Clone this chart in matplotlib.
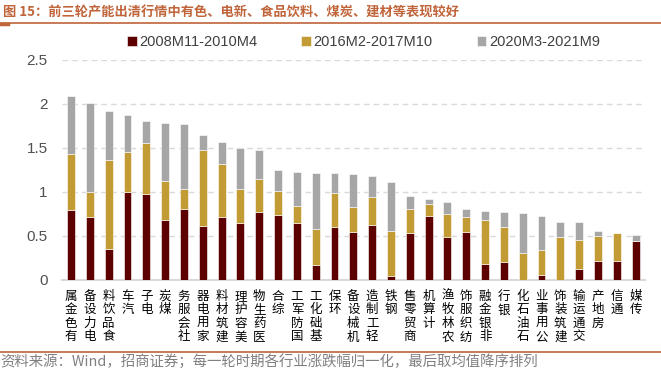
import matplotlib.pyplot as plt
import numpy as np

plt.rcParams['font.family'] = ['Liberation Sans', 'Noto Sans CJK SC', 'DejaVu Sans']

industries = ["有色金属", "电力设备", "食品饮料", "汽车", "电子", "煤炭", "社会服务", "家用电器",
              "建筑材料", "美容护理", "医药生物", "综合", "国防军工", "基础化工", "环保", "机械设备",
              "轻工制造", "钢铁", "商贸零售", "计算机", "农林牧渔", "纺织服饰", "非银金融", "银行",
              "石油石化", "公用事业", "建筑装饰", "交通运输", "房地产", "通信", "传媒"]
series_names = ["2008M11-2010M4", "2016M2-2017M10", "2020M3-2021M9"]
round1 = [0.79, 0.71, 0.35, 1.00, 0.97, 0.68, 0.81, 0.61, 0.71, 0.65, 0.77, 0.74, 0.65, 0.17, 0.60, 0.54,
          0.62, 0.04, 0.53, 0.72, 0.49, 0.54, 0.18, 0.20, 0.00, 0.06, 0.00, 0.13, 0.22, 0.21, 0.44]
round2 = [0.64, 0.29, 1.01, 0.45, 0.58, 0.44, 0.22, 0.86, 0.61, 0.38, 0.38, 0.27, 0.19, 0.41, 0.39, 0.29,
          0.32, 0.52, 0.28, 0.14, 0.26, 0.17, 0.50, 0.40, 0.31, 0.28, 0.49, 0.32, 0.28, 0.32, 0.00]
round3 = [0.66, 1.01, 0.56, 0.42, 0.25, 0.66, 0.74, 0.17, 0.25, 0.47, 0.32, 0.24, 0.39, 0.63, 0.22, 0.37,
          0.24, 0.55, 0.14, 0.06, 0.13, 0.09, 0.10, 0.17, 0.45, 0.38, 0.17, 0.21, 0.06, 0.00, 0.07]
yticks = [0, 0.5, 1, 1.5, 2, 2.5]

accent = "#C0643A"
colors = ["#5C0000", "#C39B34", "#A6A6A6"]

fig = plt.figure(figsize=(6.61, 3.71), dpi=100)
ax = fig.add_axes([0.0933, 0.2453, 0.8825, 0.5943])

x = np.arange(len(industries))
r1 = np.array(round1)
r2 = np.array(round2)
r3 = np.array(round3)
ax.bar(x, r1, width=0.42, color=colors[0], edgecolor="white", linewidth=0.4, label=series_names[0], zorder=3)
ax.bar(x, r2, width=0.42, bottom=r1, color=colors[1], edgecolor="white", linewidth=0.4, label=series_names[1], zorder=3)
ax.bar(x, r3, width=0.42, bottom=r1 + r2, color=colors[2], edgecolor="white", linewidth=0.4, label=series_names[2], zorder=3)

ax.set_xlim(-0.5, len(industries) - 0.5)
ax.set_ylim(0, 2.5)
ax.set_yticks(yticks)
ax.set_yticklabels([f"{t:g}" for t in yticks], fontsize=11, color="#505050")
ax.tick_params(axis="y", length=0, pad=10)
ax.set_xticks([])
for t in yticks[1:]:
    ax.axhline(t, color="#D9D9D9", linestyle=(0, (4, 3)), linewidth=1, zorder=1)
for s in ["top", "right", "left"]:
    ax.spines[s].set_visible(False)
ax.spines["bottom"].set_color("#D9D9D9")
ax.spines["bottom"].set_linewidth(1.5)

# vertical labels, upright characters, read bottom to top
for i, name in enumerate(industries):
    ax.text(i, -0.11, "\n".join(reversed(name)), ha="center", va="top", fontsize=9,
            linespacing=1.06, family=["Noto Sans CJK SC"], color="#000000")

fig.legend(loc="center", bbox_to_anchor=(0.55, 0.887), ncol=3, frameon=False, fontsize=10.5,
           handlelength=0.65, handleheight=0.65, handletextpad=0.2, columnspacing=3.0,
           labelcolor="#404040")

fig.text(0.004, 0.967, "图 15：前三轮产能出清行情中有色、电新、食品饮料、煤炭、建材等表现较好",
         ha="left", va="center", fontsize=9.5, fontweight="bold", color=accent,
         family=["Noto Sans CJK SC", "DejaVu Sans"])
fig.add_artist(plt.Line2D([0, 1], [0.938, 0.938], color=accent, linewidth=1.2))
fig.add_artist(plt.Line2D([0, 0.012], [0.934, 0.934], color=accent, linewidth=2.5))
fig.add_artist(plt.Line2D([0, 1], [0.052, 0.052], color=accent, linewidth=1.2))
fig.text(0.0, 0.024, "资料来源：Wind，招商证券；每一轮时期各行业涨跌幅归一化，最后取均值降序排列",
         ha="left", va="center", fontsize=10.4, color="#808080",
         family=["Noto Sans CJK SC", "DejaVu Sans"])

plt.savefig("out.png", dpi=100)
